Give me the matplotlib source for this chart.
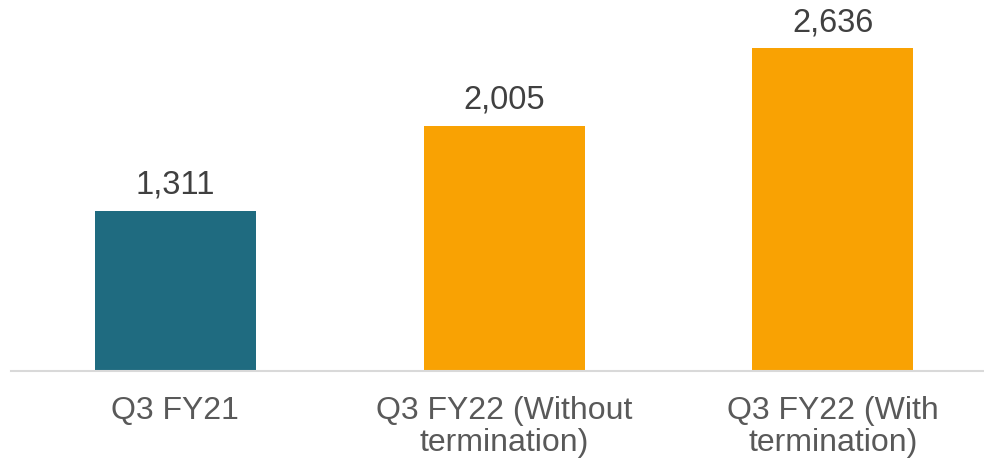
import matplotlib.pyplot as plt

categories = ["Q3 FY21", "Q3 FY22 (Without\ntermination)", "Q3 FY22 (With\ntermination)"]
values = [1311, 2005, 2636]
colors = ["#1F6B80", "#F9A203", "#F9A203"]

plt.rcParams["font.family"] = ["Liberation Sans", "DejaVu Sans"]

fig = plt.figure(figsize=(9.84, 4.64), dpi=100)
ax = fig.add_axes([11 / 984, 92 / 464, 973 / 984, 372 / 464])

x = range(len(values))
ax.bar(x, values, width=0.49, color=colors)
for xi, v in zip(x, values):
    ax.annotate(f"{v:,}", (xi, v), xytext=(0, 8), textcoords="offset points",
                ha="center", va="bottom", fontsize=23.5, color="#404040")

ax.set_xlim(-0.5, 2.46)
ax.set_ylim(0, 3040)
ax.set_xticks(list(x))
ax.set_xticklabels(categories, fontsize=23, color="#595959", linespacing=1.12)
ax.tick_params(axis="x", length=0, pad=17)
ax.set_yticks([])
for s in ("top", "right", "left"):
    ax.spines[s].set_visible(False)
ax.spines["bottom"].set_color("#D9D9D9")
ax.spines["bottom"].set_linewidth(1.5)

fig.savefig("out.png", dpi=100)
